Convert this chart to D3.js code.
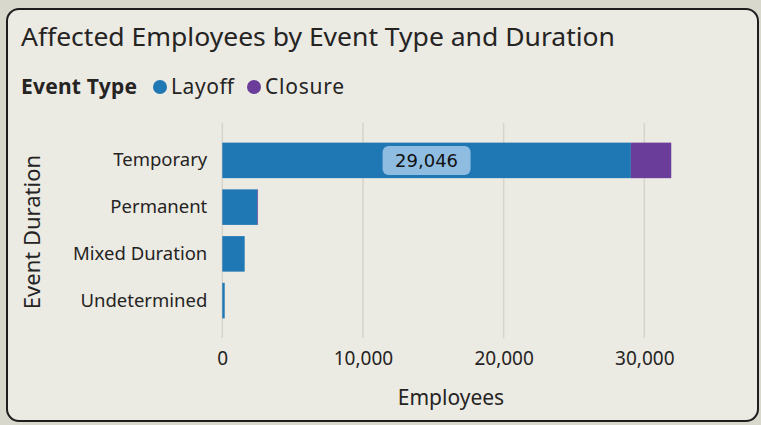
<!DOCTYPE html>
<html>
<head>
<meta charset="utf-8">
<script src="https://cdnjs.cloudflare.com/ajax/libs/d3/7.8.5/d3.min.js"></script>
<style>
    html, body { margin: 0; padding: 0; background: #d8d8cd; }
    svg { display: block; }
</style>
</head>
<body>
<div id="chart"></div>
<script>

// data
var durations = ["Temporary", "Permanent", "Mixed Duration", "Undetermined"];
var eventTypes = ["Layoff", "Closure"];
var layoffValues = [29046, 2490, 1590, 170];
var closureValues = [2870, 50, 0, 0];
var xTicks = [0, 10000, 20000, 30000];

var colors = {
    Layoff : "#1f77b4",
    Closure : "#6b3d9a"
};

var W = 761, H = 425;
var font = "'Noto Sans', 'Open Sans', sans-serif";
var textColor = "#252423";

var svg = d3.select("#chart").append("svg")
    .attr("width", W)
    .attr("height", H)
    .style("font-family", font);

// 카드 배경
svg.append("rect")
    .attr("x", 7).attr("y", 9)
    .attr("width", 751).attr("height", 412)
    .attr("rx", 12).attr("ry", 12)
    .style("fill", "#ebeae3")
    .style("stroke", "#1e1e1e")
    .style("stroke-width", 2);

// title
svg.append("text")
    .attr("x", 21).attr("y", 46)
    .attr("textLength", 594)
    .attr("lengthAdjust", "spacingAndGlyphs")
    .style("font-size", "26px")
    .style("fill", textColor)
    .text("Affected Employees by Event Type and Duration");

// legend
var legend = svg.append("g");
legend.append("text")
    .attr("x", 21).attr("y", 94)
    .attr("textLength", 116)
    .style("font-size", "21px")
    .style("font-weight", "bold")
    .style("fill", textColor)
    .text("Event Type");

var legendX = [160, 254];
var legendW = [63, 79];
eventTypes.forEach(function(t, i) {
    legend.append("circle")
        .attr("cx", legendX[i]).attr("cy", 87)
        .attr("r", 7)
        .style("fill", colors[t]);
    legend.append("text")
        .attr("x", legendX[i] + 11).attr("y", 94)
        .attr("textLength", legendW[i])
        .style("font-size", "21px")
        .style("fill", textColor)
        .text(t);
});

// scales
var plot = { left: 222.3, right: 644.3, top: 123, bottom: 338 };

var x = d3.scaleLinear()
    .domain([0, 30000])
    .range([plot.left, plot.right]);

var y = d3.scaleBand()
    .domain(durations)
    .range([plot.top, plot.bottom])
    .paddingInner(0.24)
    .paddingOuter(0.42);

// 그리드
svg.append("g")
    .selectAll("line")
    .data(xTicks)
    .enter().append("line")
    .attr("x1", function(d) { return x(d); })
    .attr("x2", function(d) { return x(d); })
    .attr("y1", plot.top)
    .attr("y2", plot.bottom)
    .style("stroke", "#d6d4cb")
    .style("stroke-width", 1.5);

// x axis
var xAxis = svg.append("g")
    .attr("transform", "translate(0," + plot.bottom + ")")
    .call(d3.axisBottom(x).tickValues(xTicks).tickSize(0).tickPadding(14).tickFormat(d3.format(",")));
xAxis.select(".domain").remove();
xAxis.selectAll("text")
    .style("font-size", "19px")
    .style("font-family", font)
    .style("fill", textColor);

// y axis
var yAxis = svg.append("g")
    .attr("transform", "translate(" + plot.left + ",0)")
    .call(d3.axisLeft(y).tickSize(0).tickPadding(15));
yAxis.select(".domain").remove();
yAxis.selectAll("text")
    .style("font-size", "18.5px")
    .style("font-family", font)
    .style("fill", textColor);

// axis titles
svg.append("text")
    .attr("x", 451).attr("y", 405)
    .attr("text-anchor", "middle")
    .style("font-size", "21px")
    .style("fill", textColor)
    .text("Employees");

svg.append("text")
    .attr("transform", "translate(40,232) rotate(-90)")
    .attr("text-anchor", "middle")
    .style("font-size", "22px")
    .style("fill", textColor)
    .text("Event Duration");

// stacked bars
var rows = durations.map(function(d, i) {
    return { duration: d, Layoff: layoffValues[i], Closure: closureValues[i] };
});
var series = d3.stack().keys(eventTypes)(rows);

svg.append("g")
    .selectAll("g")
    .data(series)
    .enter().append("g")
    .style("fill", function(s) { return colors[s.key]; })
    .selectAll("rect")
    .data(function(s) { return s; })
    .enter().append("rect")
    .attr("x", function(d) { return x(d[0]); })
    .attr("y", function(d) { return y(d.data.duration); })
    .attr("width", function(d) { return Math.max(0, x(d[1]) - x(d[0])); })
    .attr("height", y.bandwidth());

// 데이터 라벨 (Temporary layoff)
var lbl = rows[0];
var cx = (x(0) + x(lbl.Layoff)) / 2;
var cy = y(lbl.duration) + y.bandwidth() / 2;
svg.append("rect")
    .attr("x", cx - 44).attr("y", cy - 14.5)
    .attr("width", 88).attr("height", 29)
    .attr("rx", 6).attr("ry", 6)
    .style("fill", "#8fbde2");
svg.append("text")
    .attr("x", cx).attr("y", cy)
    .attr("text-anchor", "middle")
    .attr("dy", "0.35em")
    .style("font-size", "18px")
    .style("font-family", "'DejaVu Sans', sans-serif")
    .style("fill", "#111")
    .text(d3.format(",")(lbl.Layoff));

</script>
</body>
</html>
